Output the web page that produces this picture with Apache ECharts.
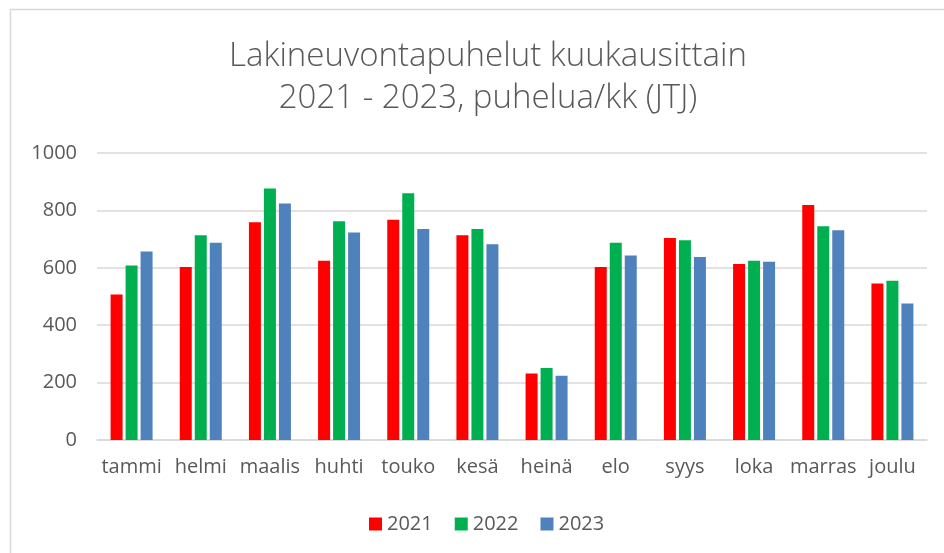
<!DOCTYPE html>
<html><head><meta charset="utf-8">
<script src="https://cdn.jsdelivr.net/npm/echarts@6/dist/echarts.min.js"></script>
<style>html,body{margin:0;padding:0;background:#fff;}#c{width:944px;height:553px;}</style>
</head><body><div id="c"></div>
<script>
const months = ['tammi','helmi','maalis','huhti','touko','kesä','heinä','elo','syys','loka','marras','joulu'];
const v2021 = [507,603,759,625,767,713,232,603,704,613,819,545];
const v2022 = [608,713,876,762,860,735,251,687,696,625,745,555];
const v2023 = [657,687,824,723,735,682,224,643,638,621,731,476];
const yTicks = [0,200,400,600,800,1000];
const titleText = 'Lakineuvontapuhelut kuukausittain\n2021 - 2023, puhelua/kk (JTJ)';

const chart = echarts.init(document.getElementById('c'), null, {renderer:'canvas'});
const font = '"Open Sans", sans-serif';
const bar = (name, data, color) => ({name, type:'bar', data, barWidth:12, barGap:'25%', itemStyle:{color}});
chart.setOption({
  backgroundColor:'#fff',
  animation:false,
  title:{text:titleText, left:483, textAlign:'center', top:31, textStyle:{fontFamily:font, fontWeight:300, fontSize:33, color:'#595959', lineHeight:42}},
  legend:{bottom:14, left:364, itemWidth:13, itemHeight:13, itemGap:22, icon:'rect',
    textStyle:{fontFamily:font, fontSize:20, color:'#595959'}},
  grid:{left:97, right:17, top:153, bottom:113, containLabel:false},
  xAxis:{type:'category', data:months, axisTick:{show:false},
    axisLine:{lineStyle:{color:'#d9d9d9', width:1.5}},
    axisLabel:{fontFamily:font, fontSize:20, color:'#595959', margin:17, interval:0}},
  yAxis:{type:'value', min:yTicks[0], max:yTicks[yTicks.length-1], interval:200,
    axisLine:{show:false}, axisTick:{show:false},
    splitLine:{lineStyle:{color:'#d9d9d9', width:1.5}},
    axisLabel:{fontFamily:font, fontSize:20, color:'#595959', margin:20, formatter:v=>String(v)}},
  graphic:[
    {type:'line', shape:{x1:10, y1:9.5, x2:944, y2:9.5}, style:{stroke:'#d9d9d9', lineWidth:1.5}},
    {type:'line', shape:{x1:10.5, y1:9, x2:10.5, y2:553}, style:{stroke:'#d9d9d9', lineWidth:1.5}}
  ],
  series:[bar('2021', v2021, '#ff0000'), bar('2022', v2022, '#00b050'), bar('2023', v2023, '#4f81bd')]
});
</script></body></html>
